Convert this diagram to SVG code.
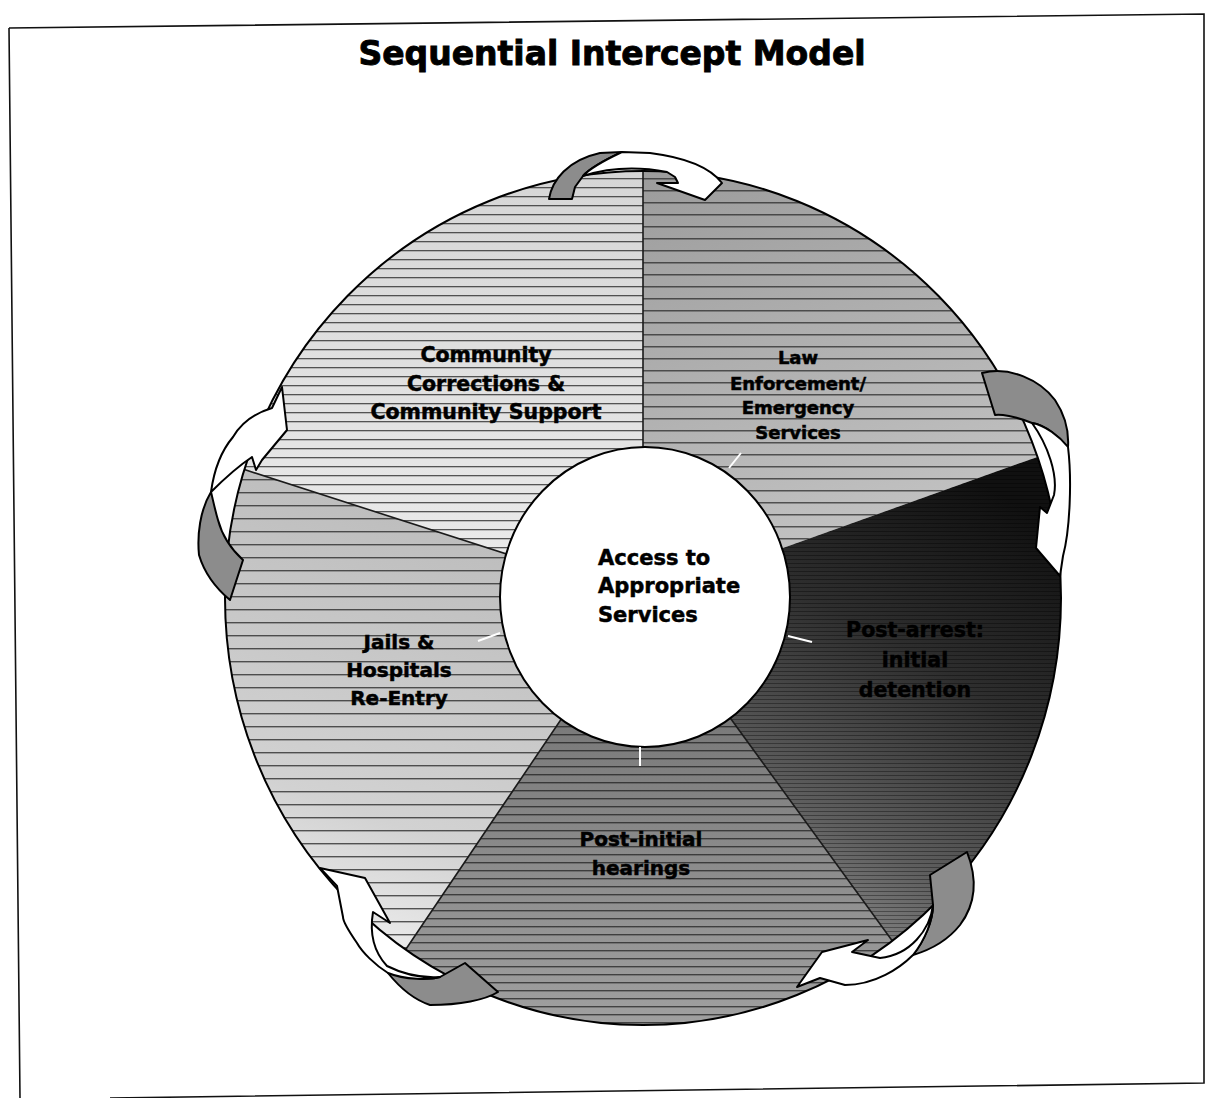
<svg xmlns="http://www.w3.org/2000/svg" width="1206" height="1098" viewBox="0 0 1206 1098">
<style>
.lbl{font-family:"DejaVu Sans","Liberation Sans",sans-serif;font-weight:bold;fill:#000;stroke:#000;stroke-width:0.5;text-anchor:middle}
.edge{fill:none;stroke:#1a1a1a;stroke-width:1.6}
.ar{stroke:#000;stroke-width:2;stroke-linejoin:round}
.back{fill:#8c8c8c}
.front{fill:#fff}
.tick{stroke:#fff;stroke-width:2}
</style>
<defs>
<linearGradient id="gCom" x1="0" y1="0" x2="0" y2="1"><stop offset="0" stop-color="#d6d6d6"/><stop offset="1" stop-color="#ececec"/></linearGradient>
<linearGradient id="gLaw" x1="0" y1="0" x2="0.3" y2="1"><stop offset="0" stop-color="#9c9c9c"/><stop offset="1" stop-color="#c4c4c4"/></linearGradient>
<linearGradient id="gPA" x1="0.7" y1="0" x2="0.2" y2="1"><stop offset="0" stop-color="#101010"/><stop offset="0.35" stop-color="#2e2e2e"/><stop offset="0.7" stop-color="#5e5e5e"/><stop offset="1" stop-color="#9a9a9a"/></linearGradient>
<linearGradient id="gPI" x1="0" y1="0" x2="0" y2="1"><stop offset="0" stop-color="#6a6a6a"/><stop offset="1" stop-color="#a0a0a0"/></linearGradient>
<linearGradient id="gJa" x1="0.3" y1="0" x2="0" y2="1"><stop offset="0" stop-color="#bcbcbc"/><stop offset="0.65" stop-color="#d2d2d2"/><stop offset="1" stop-color="#f6f6f6"/></linearGradient>
<pattern id="hCom" width="40" height="9" patternUnits="userSpaceOnUse"><rect y="7" width="40" height="1.3" fill="#222" opacity="0.75"/></pattern>
<pattern id="hLaw" width="40" height="12" patternUnits="userSpaceOnUse"><rect y="10" width="40" height="1.5" fill="#222" opacity="0.7"/></pattern>
<pattern id="hPA" width="40" height="4" patternUnits="userSpaceOnUse"><rect y="3" width="40" height="1" fill="#000" opacity="0.35"/></pattern>
<pattern id="hPI" width="40" height="8" patternUnits="userSpaceOnUse"><rect y="6" width="40" height="1.4" fill="#111" opacity="0.65"/></pattern>
<pattern id="hJa" width="40" height="13" patternUnits="userSpaceOnUse"><rect y="11" width="40" height="1.4" fill="#222" opacity="0.75"/></pattern>
</defs>

<rect width="1206" height="1098" fill="#fff"/>
<path d="M9,28 L1204,14 L1204,1083 L110,1098 M9,28 L20,1098" fill="none" stroke="#111" stroke-width="1.6"/>

<text x="612" y="65" class="lbl" font-size="33" style="stroke-width:0.9">Sequential Intercept Model</text>

<g id="pie">
<g id="slice-community">
<path d="M643,598 L244.4,469.6 A418,427 0 0,1 643,171 Z" fill="url(#gCom)"/>
<path d="M643,598 L244.4,469.6 A418,427 0 0,1 643,171 Z" fill="url(#hCom)"/>
</g>
<g id="slice-law">
<path d="M643,598 L643,171 A418,427 0 0,1 1037.5,456.9 Z" fill="url(#gLaw)"/>
<path d="M643,598 L643,171 A418,427 0 0,1 1037.5,456.9 Z" fill="url(#hLaw)"/>
</g>
<g id="slice-postarrest">
<path d="M643,598 L1037.5,456.9 A418,427 0 0,1 892.2,940.8 Z" fill="url(#gPA)"/>
<path d="M643,598 L1037.5,456.9 A418,427 0 0,1 892.2,940.8 Z" fill="url(#hPA)"/>
</g>
<g id="slice-postinitial">
<path d="M643,598 L892.2,940.8 A418,427 0 0,1 405.7,949.5 Z" fill="url(#gPI)"/>
<path d="M643,598 L892.2,940.8 A418,427 0 0,1 405.7,949.5 Z" fill="url(#hPI)"/>
</g>
<g id="slice-jails">
<path d="M643,598 L405.7,949.5 A418,427 0 0,1 244.4,469.6 Z" fill="url(#gJa)"/>
<path d="M643,598 L405.7,949.5 A418,427 0 0,1 244.4,469.6 Z" fill="url(#hJa)"/>
</g>
<path class="edge" d="M643,598 L643,171 M643,598 L244.4,469.6 M643,598 L405.7,949.5 M643,598 L892.2,940.8"/>
<ellipse cx="643" cy="598" rx="418" ry="427" fill="none" stroke="#000" stroke-width="2"/>
</g>

<g id="center">
<ellipse cx="645" cy="597" rx="145" ry="150" fill="#fff" stroke="#000" stroke-width="2"/>
<text class="lbl" font-size="21" style="text-anchor:start" x="598"><tspan x="598" y="565">Access to</tspan><tspan x="598" y="593">Appropriate</tspan><tspan x="598" y="622">Services</tspan></text>
</g>

<g id="ticks">
<line class="tick" x1="729" y1="468" x2="741" y2="453"/>
<line class="tick" x1="788" y1="636" x2="812" y2="642"/>
<line class="tick" x1="640" y1="747" x2="640" y2="766"/>
<line class="tick" x1="478" y1="641" x2="500" y2="633"/>
</g>

<g id="labels">
<g id="label-community"><text class="lbl" font-size="20.5"><tspan x="486" y="362">Community</tspan><tspan x="486" y="391">Corrections &amp;</tspan><tspan x="486" y="419">Community Support</tspan></text></g>
<g id="label-law"><text class="lbl" font-size="18"><tspan x="798" y="364">Law</tspan><tspan x="798" y="390">Enforcement/</tspan><tspan x="798" y="414">Emergency</tspan><tspan x="798" y="439">Services</tspan></text></g>
<g id="label-postarrest"><text class="lbl" font-size="20.5"><tspan x="915" y="637">Post-arrest:</tspan><tspan x="915" y="667">initial</tspan><tspan x="915" y="697">detention</tspan></text></g>
<g id="label-postinitial"><text class="lbl" font-size="20"><tspan x="641" y="846">Post-initial</tspan><tspan x="641" y="875">hearings</tspan></text></g>
<g id="label-jails"><text class="lbl" font-size="20"><tspan x="399" y="649">Jails &amp;</tspan><tspan x="399" y="677">Hospitals</tspan><tspan x="399" y="705">Re-Entry</tspan></text></g>
</g>

<g id="connectors">
<g id="arrow-top">
<path class="ar back" d="M549,199 C552,180 568,160 600,153 L622,152 C605,160 590,168 583,176 L575,187 L572,199 Z"/>
<path class="ar front" d="M583,176 C605,169 635,166 667,172 L675,177 L678,183 L657,183 L705,200 L722,183 C712,170 690,158 650,153 L622,152 C605,160 590,168 583,176 Z"/>
</g>
<g id="arrow-right">
<path class="ar back" d="M982,373 C1010,366 1040,380 1055,400 C1065,415 1069,432 1068,447 C1060,437 1045,425 1032,423 C1015,416 1000,414 995,415 Z"/>
<path class="ar front" d="M1032,423 C1048,445 1058,475 1054,495 L1047,513 L1040,507 L1036,548 L1060,576 L1063,556 C1070,530 1072,480 1068,447 C1060,437 1045,425 1032,423 Z"/>
</g>
<g id="arrow-lowerright">
<path class="ar back" d="M930,875 L967,852 C978,880 975,905 960,925 C948,940 930,950 913,955 C925,940 933,920 933,905 Z"/>
<path class="ar front" d="M933,905 C930,930 910,955 880,958 L852,952 L868,940 L822,952 L797,987 L820,978 L845,985 C875,985 900,968 913,955 C925,940 933,920 933,905 Z"/>
</g>
<g id="arrow-lowerleft">
<path class="ar back" d="M388,973 C410,978 430,980 440,977 L465,963 L498,992 C485,1000 460,1005 430,1005 C415,1000 400,988 388,973 Z"/>
<path class="ar front" d="M320,868 L365,878 L390,923 L373,912 C370,930 372,950 387,966 C405,975 425,978 440,977 C430,980 405,980 388,973 C375,965 362,952 357,943 C348,930 343,920 343,917 L337,886 Z"/>
</g>
<g id="arrow-left">
<path class="ar back" d="M211,492 C200,510 197,535 199,555 C205,575 218,590 230,600 L243,560 C232,550 222,535 218,520 C215,510 213,500 211,492 Z"/>
<path class="ar front" d="M282,387 L287,430 L262,460 L256,470 L252,457 C240,465 225,478 211,492 C214,470 222,450 233,437 C240,425 252,414 272,408 Z"/>
</g>
</g>
</svg>
